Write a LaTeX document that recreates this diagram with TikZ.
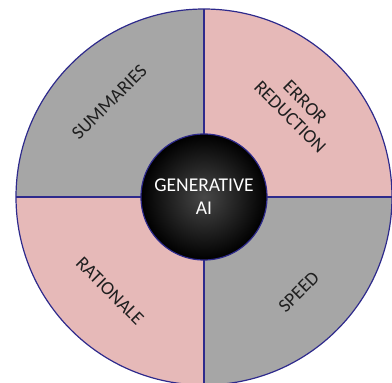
\documentclass[tikz,border=0pt]{standalone}
\usepackage{fontspec}
\setmainfont{Carlito}
\usetikzlibrary{positioning}
\definecolor{quadgray}{HTML}{A6A6A6}
\definecolor{quadpink}{HTML}{E6B9B8}
\definecolor{rimblue}{HTML}{2E2A8C}

\begin{document}
\begin{tikzpicture}[
    x=1pt, y=1pt,
    rim/.style={draw=rimblue, line width=1.2pt},
    hubnode/.style={
        circle, draw=rimblue, line width=1.2pt, inner color=black!72,
        outer color=black, minimum size=126pt, inner sep=0pt,
        text=white, align=center, font=\fontsize{19.5}{23}\selectfont
      },
    labelnode/.style={
        text=black!88, align=center, inner sep=0pt,
        font=\fontsize{19}{21}\selectfont
      },
  ]
  \useasboundingbox (-204,-186) rectangle (188,197);
  \clip (-204,-186) rectangle (188,197);
  \coordinate (C) at (0,0);
  \coordinate (N) at (90:188);
  \coordinate (S) at (270:188);
  \coordinate (W) at (180:188);
  \coordinate (E) at (0:188);
  % quadrants
  \fill[quadgray] (C) -- (W) arc (180:90:188) -- cycle;
  \fill[quadpink] (C) -- (N) arc (90:0:188) -- cycle;
  \fill[quadgray] (C) -- (E) arc (0:-90:188) -- cycle;
  \fill[quadpink] (C) -- (S) arc (270:180:188) -- cycle;
  \draw[rim] (N) -- (S);
  \draw[rim] (W) -- (E);
  \draw[rim] (C) circle (188);
  % centre and labels
  \node[hubnode] (hub) at (C) {GENERATIVE\\AI};
  \node[labelnode, rotate=45] (summaries) at (135:134) {SUMMARIES};
  \node[labelnode, rotate=-45] (errorred) at (43:128) {ERROR\\REDUCTION};
  \node[labelnode, rotate=-45] (rationale) at (225:133) {RATIONALE};
  \node[labelnode, rotate=45] (speed) at (-45:134) {SPEED};
\end{tikzpicture}
\end{document}
